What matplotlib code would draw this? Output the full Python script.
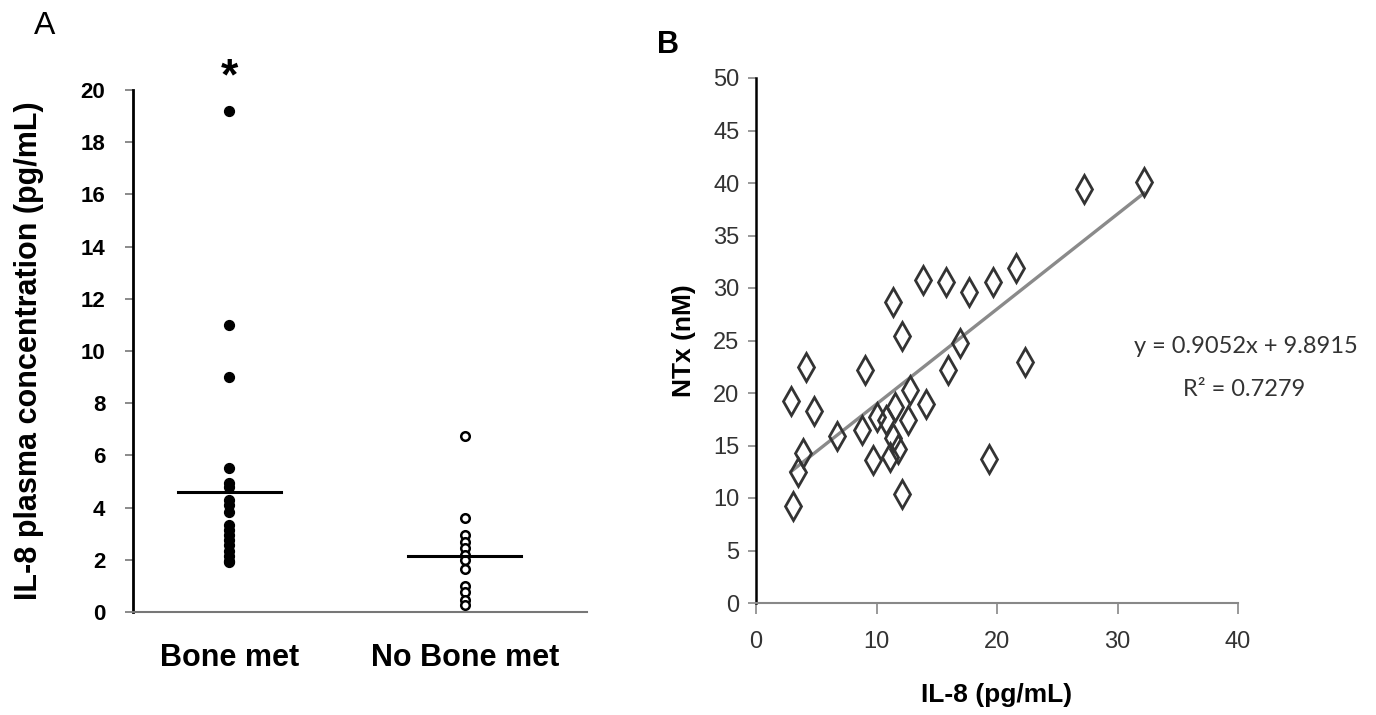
import matplotlib
matplotlib.use("Agg")
import matplotlib.pyplot as plt
import numpy as np

# ---------------- data ----------------
groups = ["Bone met", "No Bone met"]
bone_met = [19.2, 11.0, 9.0, 5.5, 4.95, 4.8, 4.3, 4.1, 3.85, 3.35, 3.15, 2.95,
            2.75, 2.55, 2.35, 2.15, 1.95, 1.9]
no_bone_met = [6.75, 3.6, 2.95, 2.7, 2.45, 2.2, 2.0, 1.65, 1.0, 0.75, 0.45, 0.25]
group_means = [4.6, 2.15]
a_yticks = [0, 2, 4, 6, 8, 10, 12, 14, 16, 18, 20]

il8 = [13.9, 15.8, 17.7, 19.7, 21.6, 11.35, 12.1, 16.9, 15.9, 22.3, 4.15, 9.05,
       2.9, 4.8, 12.8, 11.5, 14.1, 12.65, 10.0, 10.8, 8.8, 6.75, 11.4, 11.8,
       11.1, 9.7, 3.9, 3.5, 19.3, 12.1, 3.05, 27.2, 32.2]
ntx = [30.8, 30.6, 29.6, 30.6, 31.9, 28.7, 25.4, 24.8, 22.2, 23.0, 22.5, 22.2,
       19.2, 18.3, 20.3, 18.7, 18.95, 17.4, 17.7, 17.4, 16.5, 15.9, 15.7, 14.7,
       13.9, 13.6, 14.25, 12.5, 13.7, 10.4, 9.2, 39.4, 40.1]
slope, intercept, r2 = 0.9052, 9.8915, 0.7279
b_xticks = [0, 10, 20, 30, 40]
b_yticks = [0, 5, 10, 15, 20, 25, 30, 35, 40, 45, 50]

# ---------------- figure ----------------
W, H = 1376, 715
fig = plt.figure(figsize=(W / 100, H / 100), dpi=100)
fig.patch.set_facecolor("white")
FONT = "Liberation Sans"

# ---------------- panel A ----------------
axA = fig.add_axes([133 / W, 1 - 612 / H, (587 - 133) / W, (612 - 90) / H])
axA.set_xlim(0.59, 2.52)
axA.set_ylim(0, 20)
xpos = [1, 2]
axA.scatter([xpos[0]] * len(bone_met), bone_met, s=50, color="black",
            zorder=3, clip_on=False)
axA.scatter([xpos[1]] * len(no_bone_met), no_bone_met, s=38, facecolor="white",
            edgecolor="black", linewidth=1.8, zorder=3, clip_on=False)
halfw = [0.22, 0.24]
for xp, m, hw in zip(xpos, group_means, halfw):
    axA.plot([xp - hw, xp + hw], [m, m], color="black", lw=2.2, zorder=4)
axA.text(xpos[0], 20.45, "*", ha="center", va="center", fontsize=32,
         fontweight="bold", family=FONT)

for s in ["top", "right"]:
    axA.spines[s].set_visible(False)
axA.spines["left"].set_linewidth(2.0)
axA.spines["left"].set_color("black")
axA.spines["bottom"].set_linewidth(1.5)
axA.spines["bottom"].set_color("#777777")
axA.set_yticks(a_yticks)
axA.set_yticklabels([str(t) for t in a_yticks], fontsize=16, fontweight="bold",
                    family=FONT)
axA.tick_params(axis="y", direction="out", length=6, width=1.2, color="#777777",
                pad=14)
axA.set_xticks(xpos)
axA.set_xticklabels(groups, fontsize=22, fontweight="bold", family=FONT)
axA.tick_params(axis="x", length=0, pad=22)
axA.set_ylabel("IL-8 plasma concentration (pg/mL)", fontsize=22,
               fontweight="bold", family=FONT, labelpad=26)
fig.text(45 / W, 1 - 26 / H, "A", fontsize=23, family=FONT, ha="center",
         va="center")

# ---------------- panel B ----------------
axB = fig.add_axes([756 / W, 1 - 603 / H, (1238 - 756) / W, (603 - 78) / H])
axB.set_xlim(0, 40)
axB.set_ylim(0, 50)
axB.plot(il8, ntx, linestyle="none", marker="d", markersize=14,
         markerfacecolor="none", markeredgecolor="#333333",
         markeredgewidth=2.0, zorder=3, clip_on=False)
xfit = np.array([min(il8), max(il8)])
axB.plot(xfit, slope * xfit + intercept, color="#8a8a8a", lw=2.4, zorder=2)

for s in ["top", "right"]:
    axB.spines[s].set_visible(False)
axB.spines["left"].set_linewidth(1.8)
axB.spines["left"].set_color("black")
axB.spines["bottom"].set_linewidth(1.5)
axB.spines["bottom"].set_color("#888888")
axB.set_xticks(b_xticks)
axB.set_yticks(b_yticks)
axB.set_xticklabels([str(t) for t in b_xticks], fontsize=17, family=FONT,
                    color="#333333")
axB.set_yticklabels([str(t) for t in b_yticks], fontsize=17, family=FONT,
                    color="#333333")
axB.tick_params(axis="y", direction="out", length=6, width=1.2, color="#888888",
                pad=6)
axB.tick_params(axis="x", direction="out", length=8, width=1.2, color="#888888",
                pad=12)
axB.set_xlabel("IL-8 (pg/mL)", fontsize=19, fontweight="bold", family=FONT,
               labelpad=22)
axB.set_ylabel("NTx (nM)", fontsize=19, fontweight="bold", family=FONT,
               labelpad=12)
fig.text(1246 / W, 1 - 347 / H, f"y = {slope:.4f}x + {intercept:.4f}",
         fontsize=17, family="Lato", color="#333333", ha="center", va="center")
fig.text(1244 / W, 1 - 390 / H, f"R\u00b2 = {r2:.4f}", fontsize=17,
         family="Lato", color="#333333", ha="center", va="center")
fig.text(668 / W, 1 - 45 / H, "B", fontsize=22, fontweight="bold", family=FONT,
         ha="center", va="center")

fig.savefig("out.png", dpi=100, facecolor="white")
